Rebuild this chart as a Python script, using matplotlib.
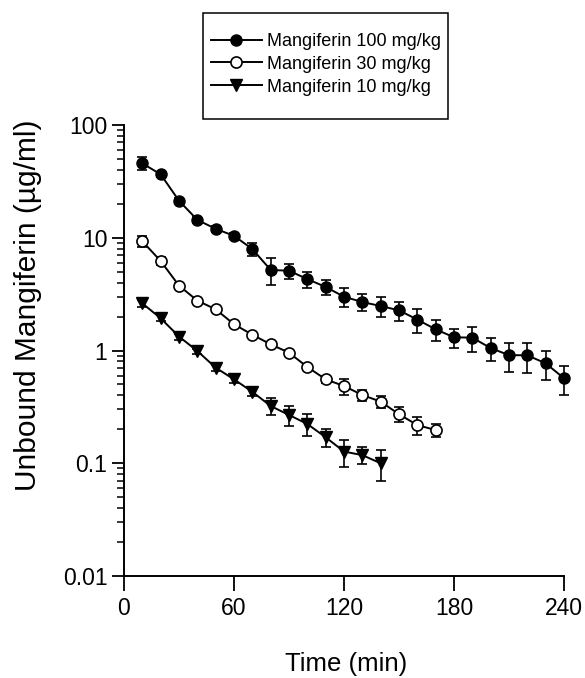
import matplotlib
matplotlib.use("Agg")
import matplotlib.pyplot as plt
from matplotlib.patches import Rectangle
import numpy as np

plt.rcParams['font.family'] = ['Liberation Sans', 'DejaVu Sans']

t100 = [10, 20, 30, 40, 50, 60, 70, 80, 90, 100, 110, 120, 130, 140, 150, 160,
        170, 180, 190, 200, 210, 220, 230, 240]
c100 = [45.7, 36.5, 21.3, 14.4, 12.0, 10.4, 7.94, 5.18, 5.1, 4.3, 3.66, 3.0, 2.69,
        2.48, 2.27, 1.88, 1.54, 1.31, 1.30, 1.05, 0.91, 0.906, 0.77, 0.567]
e100 = [6.0, 2.0, 1.2, 0.9, 0.8, 0.7, 1.0, 1.4, 0.8, 0.7, 0.56, 0.56, 0.46,
        0.48, 0.44, 0.44, 0.32, 0.25, 0.33, 0.25, 0.26, 0.27, 0.22, 0.16]

t30 = [10, 20, 30, 40, 50, 60, 70, 80, 90, 100, 110, 120, 130, 140, 150, 160, 170]
c30 = [9.3, 6.22, 3.76, 2.77, 2.32, 1.71, 1.38, 1.135, 0.956, 0.714, 0.555, 0.484,
       0.403, 0.352, 0.272, 0.218, 0.197]
e30 = [1.1, 0.5, 0.2, 0.15, 0.12, 0.08, 0.07, 0.06, 0.05, 0.04, 0.04, 0.08,
       0.045, 0.043, 0.041, 0.041, 0.026]

t10 = [10, 20, 30, 40, 50, 60, 70, 80, 90, 100, 110, 120, 130, 140]
c10 = [2.62, 1.93, 1.33, 0.99, 0.704, 0.555, 0.43, 0.322, 0.268, 0.223, 0.170,
       0.127, 0.118, 0.100]
e10 = [0.18, 0.12, 0.08, 0.05, 0.04, 0.04, 0.035, 0.055, 0.054, 0.05, 0.03,
       0.034, 0.02, 0.031]

labels = ["Mangiferin 100 mg/kg", "Mangiferin 30 mg/kg", "Mangiferin 10 mg/kg"]
xticks = [0, 60, 120, 180, 240]
yticks = [0.01, 0.1, 1, 10, 100]
yticklabels = ["0.01", "0.1", "1", "10", "100"]

W, H = 585, 678
fig = plt.figure(figsize=(W / 100, H / 100), dpi=100)
ax = fig.add_axes([124 / W, 1 - 576 / H, 440 / W, 451 / H])

common = dict(color='black', lw=1.4, capsize=3.8, elinewidth=1.2, capthick=1.2, ms=8)
h1 = ax.errorbar(t100, c100, yerr=e100, fmt='-o', mfc='black', mec='black', **common)
h2 = ax.errorbar(t30, c30, yerr=e30, fmt='-o', mfc='white', mec='black', mew=1.2, **common)
h3 = ax.errorbar(t10, c10, yerr=e10, fmt='-v', mfc='black', mec='black', **common)
for h in (h1, h2, h3):
    h.lines[0].set_clip_on(False)
    for c in h.lines[1]:
        c.set_clip_on(False)
    for c in h.lines[2]:
        c.set_clip_on(False)

ax.set_yscale('log')
ax.set_xlim(0, 240)
ax.set_ylim(0.01, 100)
ax.set_xticks(xticks)
ax.set_yticks(yticks)
ax.set_yticklabels(yticklabels)
ax.spines['top'].set_visible(False)
ax.spines['right'].set_visible(False)
ax.spines['left'].set_linewidth(1.4)
ax.spines['bottom'].set_linewidth(1.4)
ax.tick_params(axis='both', which='major', direction='out', width=1.3,
               labelsize=16.5)
ax.tick_params(axis='x', which='major', length=11, pad=4)
ax.tick_params(axis='y', which='major', length=9, pad=3)
ax.tick_params(axis='y', which='minor', direction='out', length=5, width=1.1)

fig.text(346 / W, 1 - 664 / H, "Time (min)", fontsize=18.5, ha='center', va='center')
fig.text(28 / W, 1 - 305 / H, "Unbound Mangiferin (\u00b5g/ml)", fontsize=21.5,
         rotation=90, ha='center', va='center')

leg_handles = [
    plt.Line2D([], [], color='black', lw=1.4, marker='o', ms=8, mfc='black'),
    plt.Line2D([], [], color='black', lw=1.4, marker='o', ms=8, mfc='white', mew=1.2),
    plt.Line2D([], [], color='black', lw=1.4, marker='v', ms=8, mfc='black'),
]
leg = fig.legend(leg_handles, labels, loc='upper left',
                 bbox_to_anchor=(211 / W, 1 - 33 / H),
                 fontsize=13, frameon=False,
                 handlelength=2.8, handletextpad=0.3, borderpad=0,
                 labelspacing=0.32, borderaxespad=0)
fig.add_artist(Rectangle((203 / W, 1 - 119 / H), 245 / W, 106 / H,
                         transform=fig.transFigure, fill=False,
                         edgecolor='black', linewidth=1.1))

fig.savefig("out.png", dpi=100)
